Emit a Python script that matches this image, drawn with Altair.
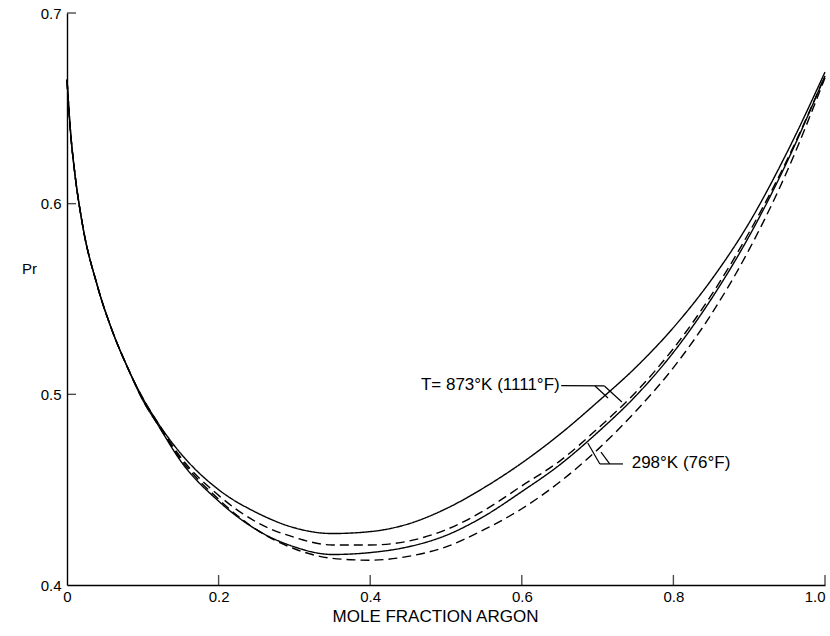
import altair as alt
import pandas as pd

# ---- data ----
x_frac = [0.0, 0.005, 0.01, 0.02, 0.04, 0.06, 0.08, 0.10, 0.12, 0.15, 0.20, 0.25,
          0.30, 0.35, 0.40, 0.45, 0.50, 0.55, 0.60, 0.65, 0.70, 0.75, 0.80, 0.85,
          0.90, 0.95, 1.00]

pr_873_solid = [0.665, 0.636, 0.617, 0.590, 0.557, 0.533, 0.514, 0.498, 0.485, 0.469,
                0.450, 0.438, 0.430, 0.427, 0.428, 0.432, 0.440, 0.451, 0.464, 0.479,
                0.496, 0.514, 0.535, 0.560, 0.590, 0.627, 0.669]
pr_873_dashed = [0.665, 0.636, 0.617, 0.590, 0.557, 0.533, 0.514, 0.498, 0.485, 0.467,
                 0.447, 0.433, 0.425, 0.421, 0.421, 0.423, 0.429, 0.439, 0.452, 0.465,
                 0.482, 0.501, 0.524, 0.552, 0.585, 0.623, 0.667]
pr_298_solid = [0.665, 0.636, 0.617, 0.590, 0.557, 0.533, 0.514, 0.497, 0.484, 0.465,
                0.444, 0.429, 0.420, 0.416, 0.417, 0.420, 0.426, 0.436, 0.449, 0.463,
                0.480, 0.499, 0.522, 0.550, 0.583, 0.622, 0.667]
pr_298_dashed = [0.665, 0.636, 0.617, 0.590, 0.557, 0.533, 0.514, 0.497, 0.484, 0.466,
                 0.445, 0.429, 0.419, 0.414, 0.413, 0.415, 0.420, 0.429, 0.440, 0.454,
                 0.471, 0.491, 0.514, 0.542, 0.576, 0.617, 0.666]

curve_names = ["873 solid", "873 dashed", "298 solid", "298 dashed"]
curve_styles = ["solid", "dashed", "solid", "dashed"]
curve_values = [pr_873_solid, pr_873_dashed, pr_298_solid, pr_298_dashed]

x_ticks = [0.0, 0.2, 0.4, 0.6, 0.8, 1.0]
y_ticks = [0.4, 0.5, 0.6, 0.7]

label_texts = ["T= 873°K  (1111°F)", "298°K  (76°F)"]
label_x = [0.650, 0.745]
label_y = [0.5049, 0.4640]
label_align = ["right", "left"]

# leader lines (segment endpoints in data units)
lead_x1 = [0.652, 0.6966, 0.709, 0.7335, 0.703, 0.716]
lead_y1 = [0.5046, 0.5044, 0.5044, 0.4635, 0.4635, 0.4635]
lead_x2 = [0.709, 0.7137, 0.732, 0.703, 0.687, 0.7045]
lead_y2 = [0.5044, 0.4981, 0.4960, 0.4635, 0.4745, 0.4697]

# ---- tables ----
rows = []
for name, style, vals in zip(curve_names, curve_styles, curve_values):
    for x, v in zip(x_frac, vals):
        rows.append({"x": x, "pr": v, "curve": name, "style": style})
df = pd.DataFrame(rows)

labels_df = pd.DataFrame({"x": label_x, "pr": label_y, "text": label_texts, "align": label_align})
lead_df = pd.DataFrame({"x": lead_x1, "pr": lead_y1, "x2": lead_x2, "pr2": lead_y2})
xt_df = pd.DataFrame({"x": x_ticks[1:]})
yt_df = pd.DataFrame({"pr": y_ticks[1:]})

FONT = "Liberation Sans"
xs = alt.Scale(domain=[0, 1], nice=False, zero=False)
ys = alt.Scale(domain=[0.4, 0.7], nice=False, zero=False)

x_axis = alt.Axis(values=x_ticks, labelExpr="datum.value == 0 ? '0' : format(datum.value, '.1f')",
                  title="MOLE  FRACTION  ARGON", ticks=False, grid=False, domainColor="black",
                  domainWidth=1.4, labelColor="black", labelFont=FONT, labelFontSize=15,
                  labelPadding=4, titleFont=FONT, titleFontSize=17, titleFontWeight="normal",
                  titleColor="black", titleBaseline="middle", titleY=31, titleX=368,
                  labelAlign={"condition": {"test": "datum.value == 1", "value": "right"},
                              "value": "center"},
                  labelFlush=False)
y_axis = alt.Axis(values=y_ticks, format=".1f", title="Pr", ticks=False, grid=False,
                  domainColor="black", domainWidth=1.4, labelColor="black", labelFont=FONT,
                  labelFontSize=15, labelPadding=6, titleFont=FONT, titleFontSize=15,
                  titleFontWeight="normal", titleColor="black", titleAngle=0,
                  titleAlign="center", titleBaseline="middle", titleX=-38, titleY=255,
                  labelFlush=False)

lines = alt.Chart(df).mark_line(color="black", strokeWidth=1.4, interpolate="monotone").encode(
    x=alt.X("x:Q", scale=xs, axis=x_axis),
    y=alt.Y("pr:Q", scale=ys, axis=y_axis),
    detail="curve:N",
    strokeDash=alt.StrokeDash("style:N", scale=alt.Scale(domain=["solid", "dashed"],
                                                         range=[[1, 0], [9, 5]]), legend=None),
)

xticks = alt.Chart(xt_df).mark_tick(color="black", orient="vertical", size=10, thickness=1.4,
                                    yOffset=-5).encode(
    x=alt.X("x:Q", scale=xs), y=alt.YDatum(0.4))
yticks = alt.Chart(yt_df).mark_tick(color="black", orient="horizontal", size=9, thickness=1.4,
                                    xOffset=4.5).encode(
    y=alt.Y("pr:Q", scale=ys), x=alt.XDatum(0.0))

leads = alt.Chart(lead_df).mark_rule(color="black", strokeWidth=1.2).encode(
    x="x:Q", y="pr:Q", x2="x2:Q", y2="pr2:Q")

txt_r = alt.Chart(labels_df[labels_df["align"] == "right"]).mark_text(
    align="right", baseline="middle", font=FONT, fontSize=17, color="black").encode(
    x="x:Q", y="pr:Q", text="text:N")
txt_l = alt.Chart(labels_df[labels_df["align"] == "left"]).mark_text(
    align="left", baseline="middle", font=FONT, fontSize=17, color="black").encode(
    x="x:Q", y="pr:Q", text="text:N")

chart = alt.layer(lines, xticks, yticks, leads, txt_r, txt_l).properties(
    width=758, height=572,
    padding={"left": 67, "top": 13, "right": 5, "bottom": 51},
    autosize=alt.AutoSizeParams(type="none"),
    background="white",
).configure_view(stroke=None)

chart.save("out.html", embed_options={"renderer": "svg", "actions": False})
